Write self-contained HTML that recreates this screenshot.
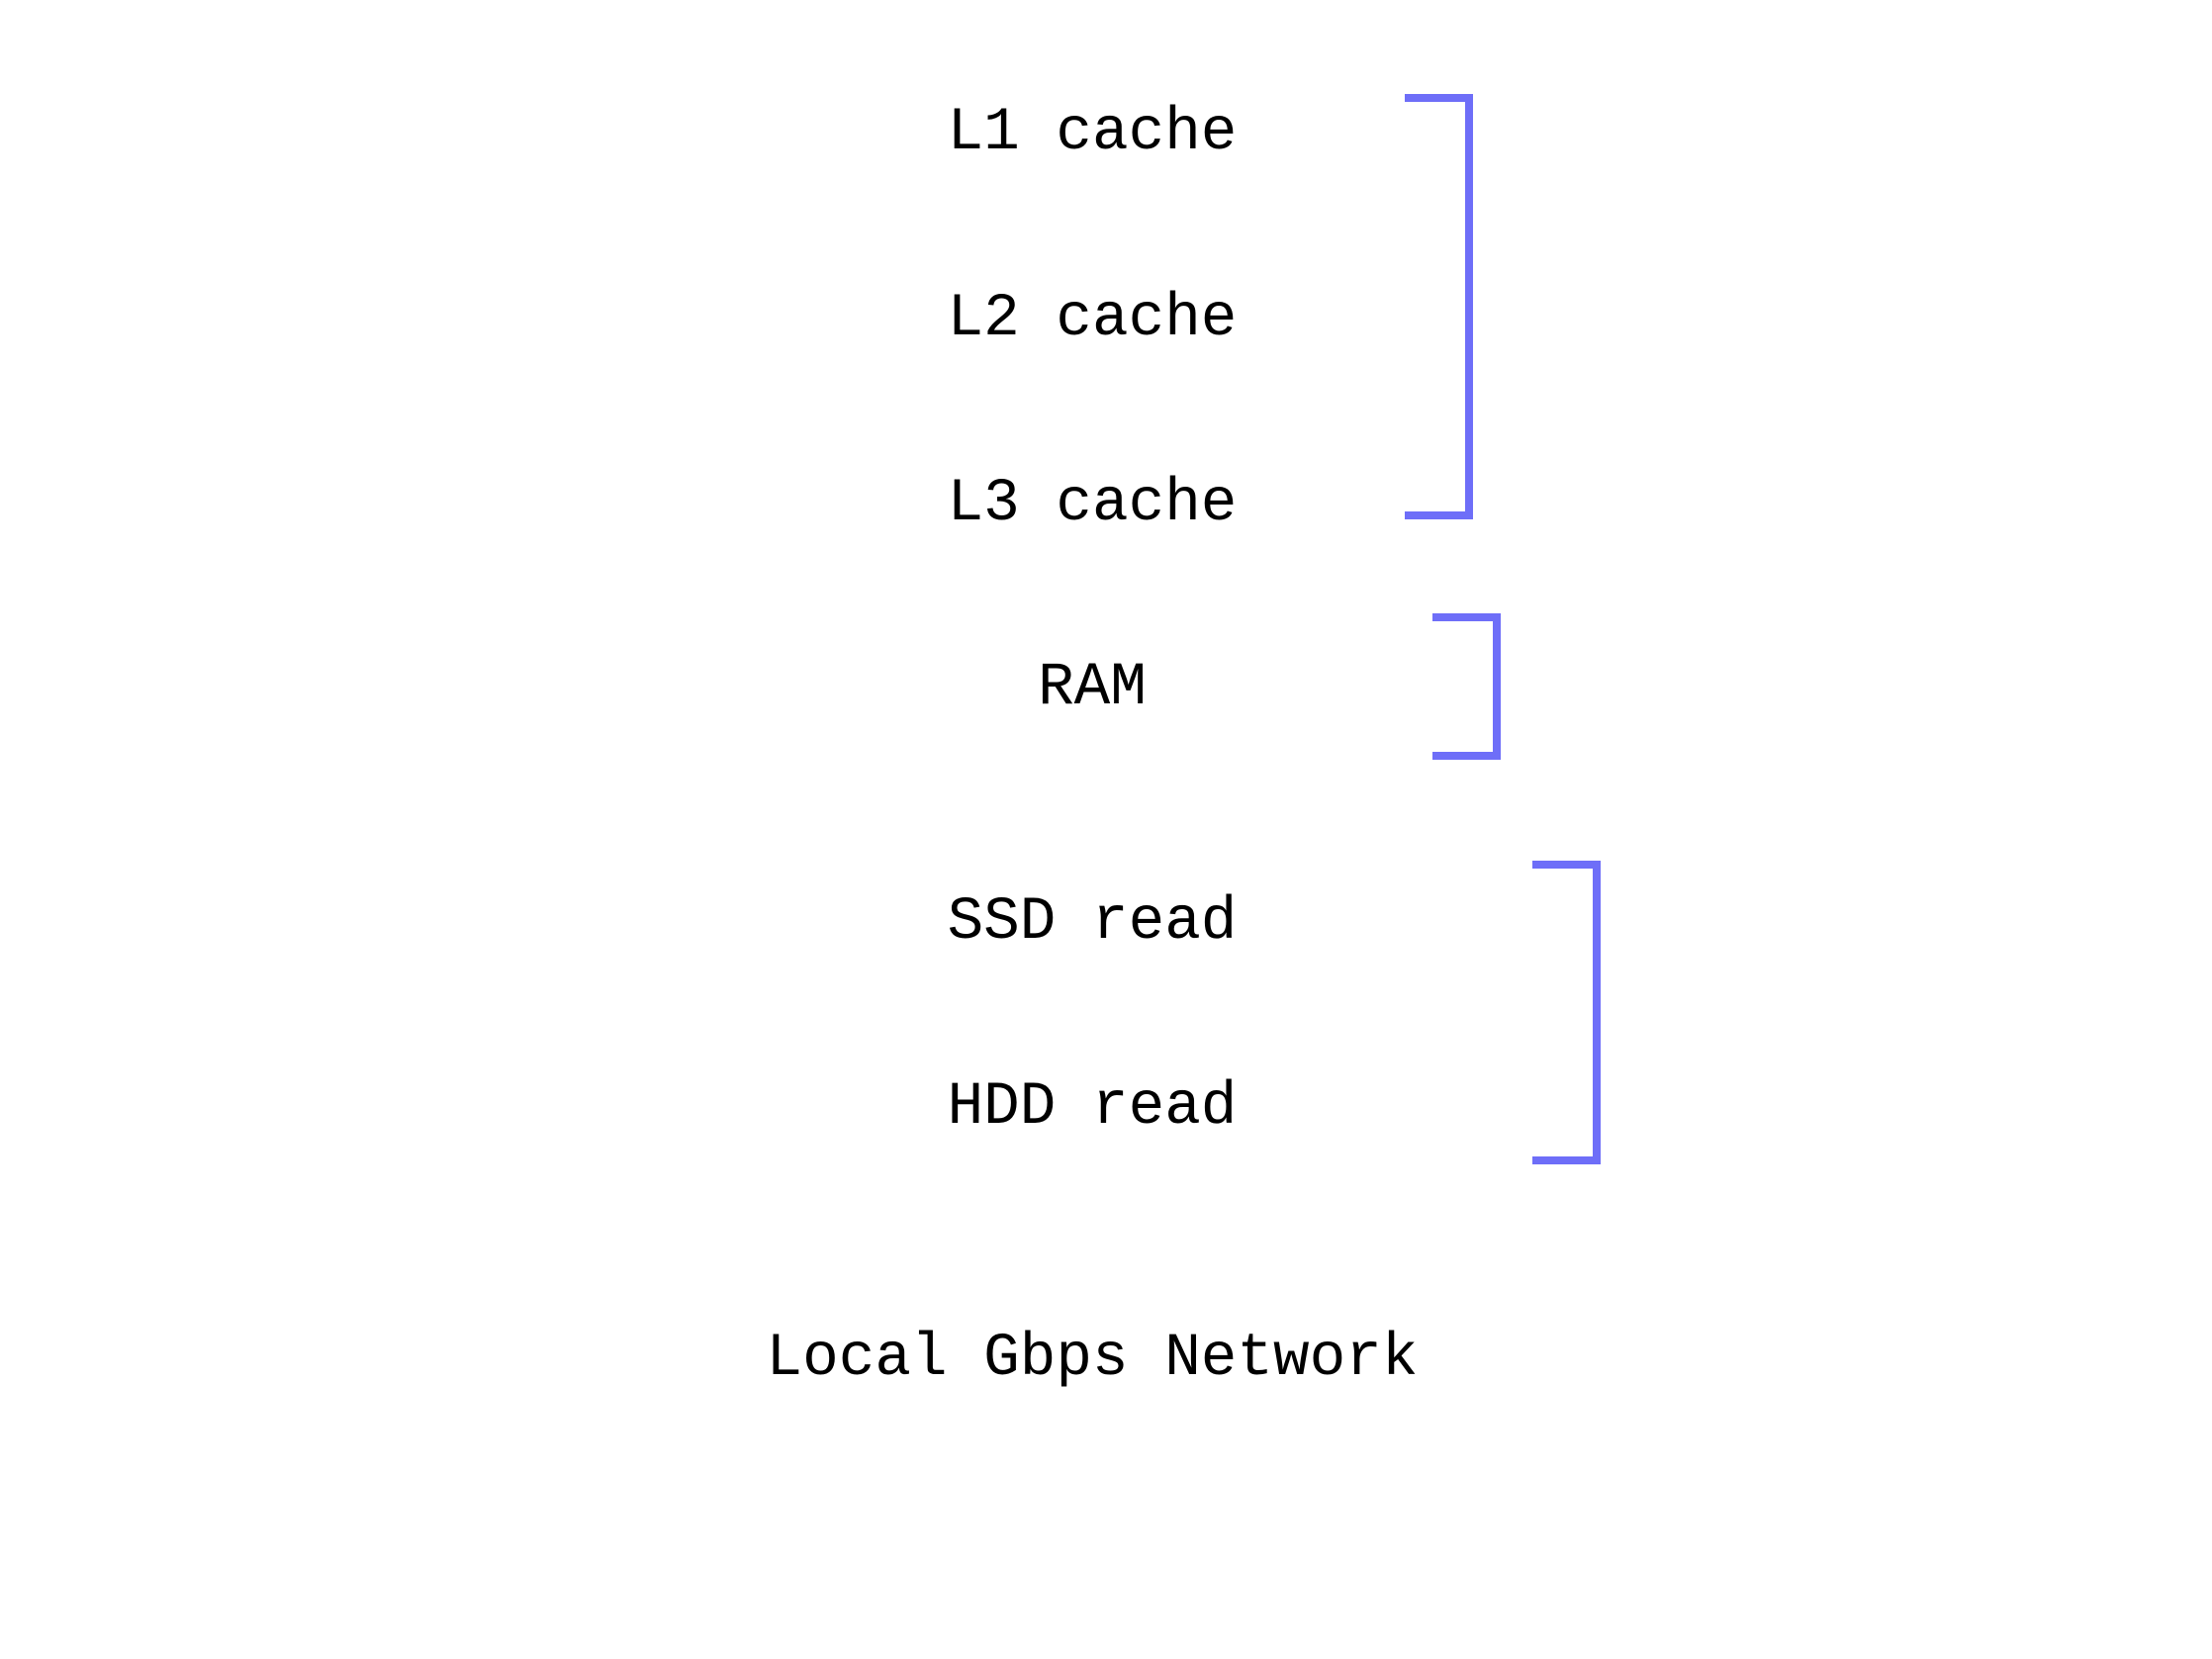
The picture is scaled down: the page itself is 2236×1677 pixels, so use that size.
<!DOCTYPE html>
<html><head><meta charset="utf-8"><style>
html,body{margin:0;padding:0;background:#fff;}
body{width:2236px;height:1677px;position:relative;overflow:hidden;}
.t{position:absolute;left:0;width:2208px;text-align:center;font-family:"Liberation Mono","DejaVu Sans Mono",monospace;font-size:61px;line-height:60px;color:#000;}
svg{position:absolute;left:0;top:0;}
</style></head><body>
<div class="t" style="top:105px">L1 cache</div>
<div class="t" style="top:293px">L2 cache</div>
<div class="t" style="top:480px">L3 cache</div>
<div class="t" style="top:666px">RAM</div>
<div class="t" style="top:903px">SSD read</div>
<div class="t" style="top:1090px">HDD read</div>
<div class="t" style="top:1344px">Local Gbps Network</div>
<svg width="2236" height="1677">
<g fill="none" stroke="#6e6ef8" stroke-width="8">
<polyline points="1420,99 1485,99 1485,521 1420,521"/>
<polyline points="1448,624 1513,624 1513,764 1448,764"/>
<polyline points="1549,874 1614,874 1614,1173 1549,1173"/>
</g>
</svg>
</body></html>
